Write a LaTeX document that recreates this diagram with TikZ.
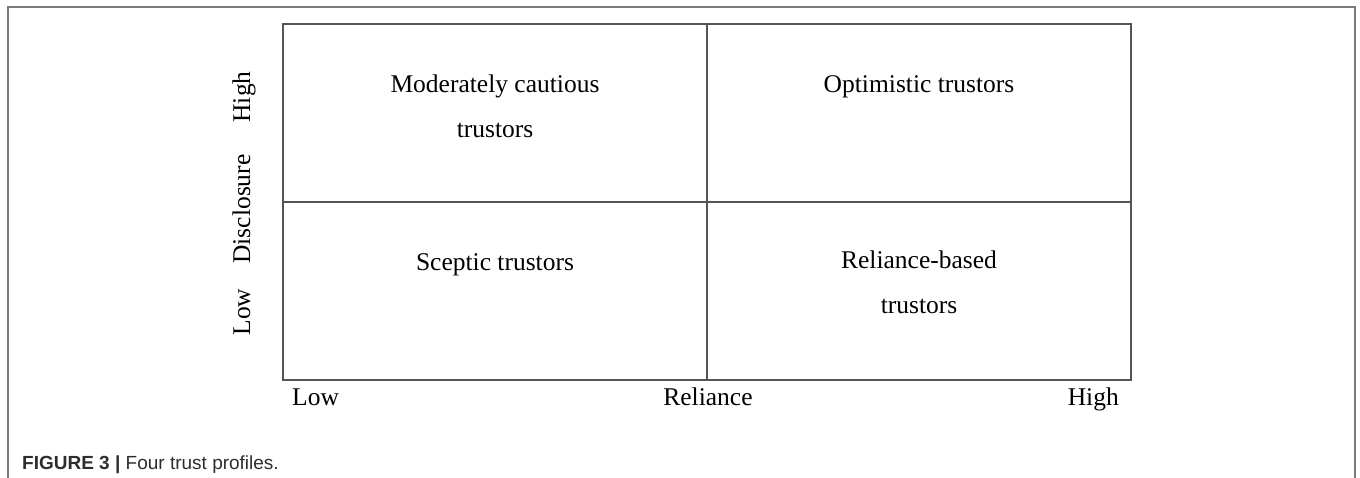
\documentclass[tikz,border=0pt]{standalone}
\usepackage{fontspec}
\setmainfont{Liberation Serif}
\newfontfamily\capfont{Liberation Sans}
\definecolor{framegray}{HTML}{7A7A7A}
\definecolor{gridgray}{HTML}{555555}
\definecolor{captext}{HTML}{2E2E2E}
\begin{document}
\begin{tikzpicture}[x=1pt,y=-1pt,
  frameline/.style={draw=framegray,line width=1.4pt},
  gridline/.style={draw=gridgray,line width=1.4pt},
  celltext/.style={font=\fontsize{25.5}{45}\selectfont,align=center,anchor=base,inner sep=0pt,text=black},
  axistext/.style={font=\fontsize{25.5}{30}\selectfont,anchor=base,inner sep=0pt,text=black},
  captionstyle/.style={font=\capfont\fontsize{19}{22}\selectfont,anchor=base west,inner sep=0pt,text=captext}]
\useasboundingbox (0,0) rectangle (1360,478);

% open frame around figure and caption
\draw[frameline] (8,478) -- (8,7) -- (1355,7) -- (1355,478);

% two-by-two grid
\coordinate (tl) at (283,24);
\coordinate (br) at (1131,380);
\draw[gridline] (tl) rectangle (br);
\coordinate (vtop) at (707,24);
\coordinate (vbot) at (707,380);
\coordinate (hleft) at (283,202);
\coordinate (hright) at (1131,202);
\draw[gridline] (vtop) -- (vbot);
\draw[gridline] (hleft) -- (hright);

% quadrant labels (base anchor sits on the last line)
\node[celltext] (mod) at (495,138) {Moderately cautious\\trustors};
\node[celltext] (opt) at (919,93) {Optimistic trustors};
\node[celltext] (scep) at (495,271) {Sceptic trustors};
\node[celltext] (rel) at (919,314) {Reliance-based\\trustors};

% horizontal axis
\node[axistext,anchor=base west] (xlow) at (292,405) {Low};
\node[axistext] (xname) at (708,405) {Reliance};
\node[axistext,anchor=base east] (xhigh) at (1119,405) {High};

% vertical axis
\node[axistext,rotate=90] (ylow) at (250,312) {Low};
\node[axistext,rotate=90] (yname) at (250,209) {Disclosure};
\node[axistext,rotate=90] (yhigh) at (250,97) {High};

% caption
\node[captionstyle] (cap) at (22,469) {\textbf{FIGURE 3 |} Four trust profiles.};
\end{tikzpicture}
\end{document}
